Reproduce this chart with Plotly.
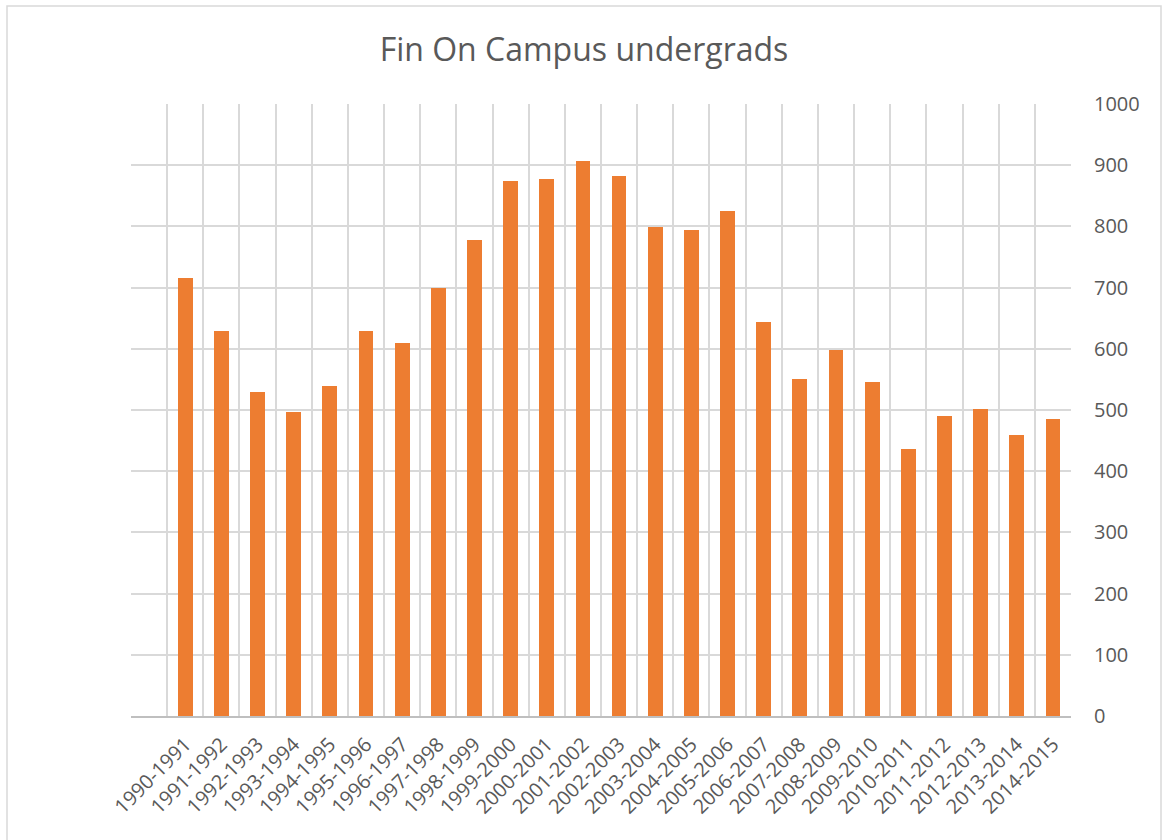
import plotly.graph_objects as go

categories = ["1990-1991", "1991-1992", "1992-1993", "1993-1994", "1994-1995",
              "1995-1996", "1996-1997", "1997-1998", "1998-1999", "1999-2000",
              "2000-2001", "2001-2002", "2002-2003", "2003-2004", "2004-2005",
              "2005-2006", "2006-2007", "2007-2008", "2008-2009", "2009-2010",
              "2010-2011", "2011-2012", "2012-2013", "2013-2014", "2014-2015"]
values = [716, 629, 529, 496, 540, 629, 609, 700, 777, 874,
          877, 907, 882, 799, 794, 825, 643, 551, 598, 545,
          436, 491, 501, 459, 485]
y_ticks = [0, 100, 200, 300, 400, 500, 600, 700, 800, 900, 1000]

# the source chart has one leading empty category slot
positions = [i + 1 for i in range(len(categories))]

FONT = "Open Sans"
TXT = "#595959"
GRID = "#D9D9D9"

fig = go.Figure()
fig.add_trace(go.Bar(x=positions, y=values, marker=dict(color="#ED7D31", line=dict(width=0)),
                     width=0.41, hoverinfo="x+y"))

W, H = 1163, 840
L, R, T, B = 131, 92, 104, 124

fig.update_layout(
    width=W, height=H,
    margin=dict(l=L, r=R, t=T, b=B, autoexpand=False),
    paper_bgcolor="white", plot_bgcolor="white",
    showlegend=False,
    title=dict(text="Fin On Campus undergrads", x=584 / W, xref="container", xanchor="center",
               y=1 - 50 / H, yref="container", yanchor="middle",
               font=dict(family=FONT, size=32, color=TXT)),
    font=dict(family=FONT, color=TXT),
    bargap=0,
)
fig.update_xaxes(
    automargin=False,
    range=[-0.5, len(categories) + 0.5],
    tickmode="array", tickvals=positions, ticktext=categories,
    tickangle=-45, tickfont=dict(family=FONT, size=20, color=TXT),
    ticklabelstandoff=7,
    showgrid=False, zeroline=False,
    showline=True, linecolor="#BFBFBF", linewidth=1.5,
    ticks="",
    minor=dict(tickmode="linear", tick0=0.5, dtick=1, showgrid=True,
               gridcolor=GRID, gridwidth=1.5, ticks=""),
)
fig.update_yaxes(
    automargin=False,
    side="right", range=[0, 1000],
    tickmode="array", tickvals=y_ticks,
    tickfont=dict(family=FONT, size=20, color=TXT),
    showgrid=True, gridcolor=GRID, gridwidth=1.5,
    zeroline=False, showline=False, ticks="",
    ticklabelstandoff=22,
)

# outer chart border
fig.add_shape(type="rect", xref="paper", yref="paper",
              x0=(7 - L) / (W - L - R), x1=(1161 - L) / (W - L - R),
              y0=-(H + 10 - (H - B)) / (H - T - B), y1=(H - 6 - B) / (H - T - B),
              line=dict(color="#D9D9D9", width=1.5), fillcolor="rgba(0,0,0,0)", layer="below")

fig.write_html("out.html", config={"displayModeBar": False},
               post_script="document.body.style.margin='0px';document.body.style.padding='0px';")
